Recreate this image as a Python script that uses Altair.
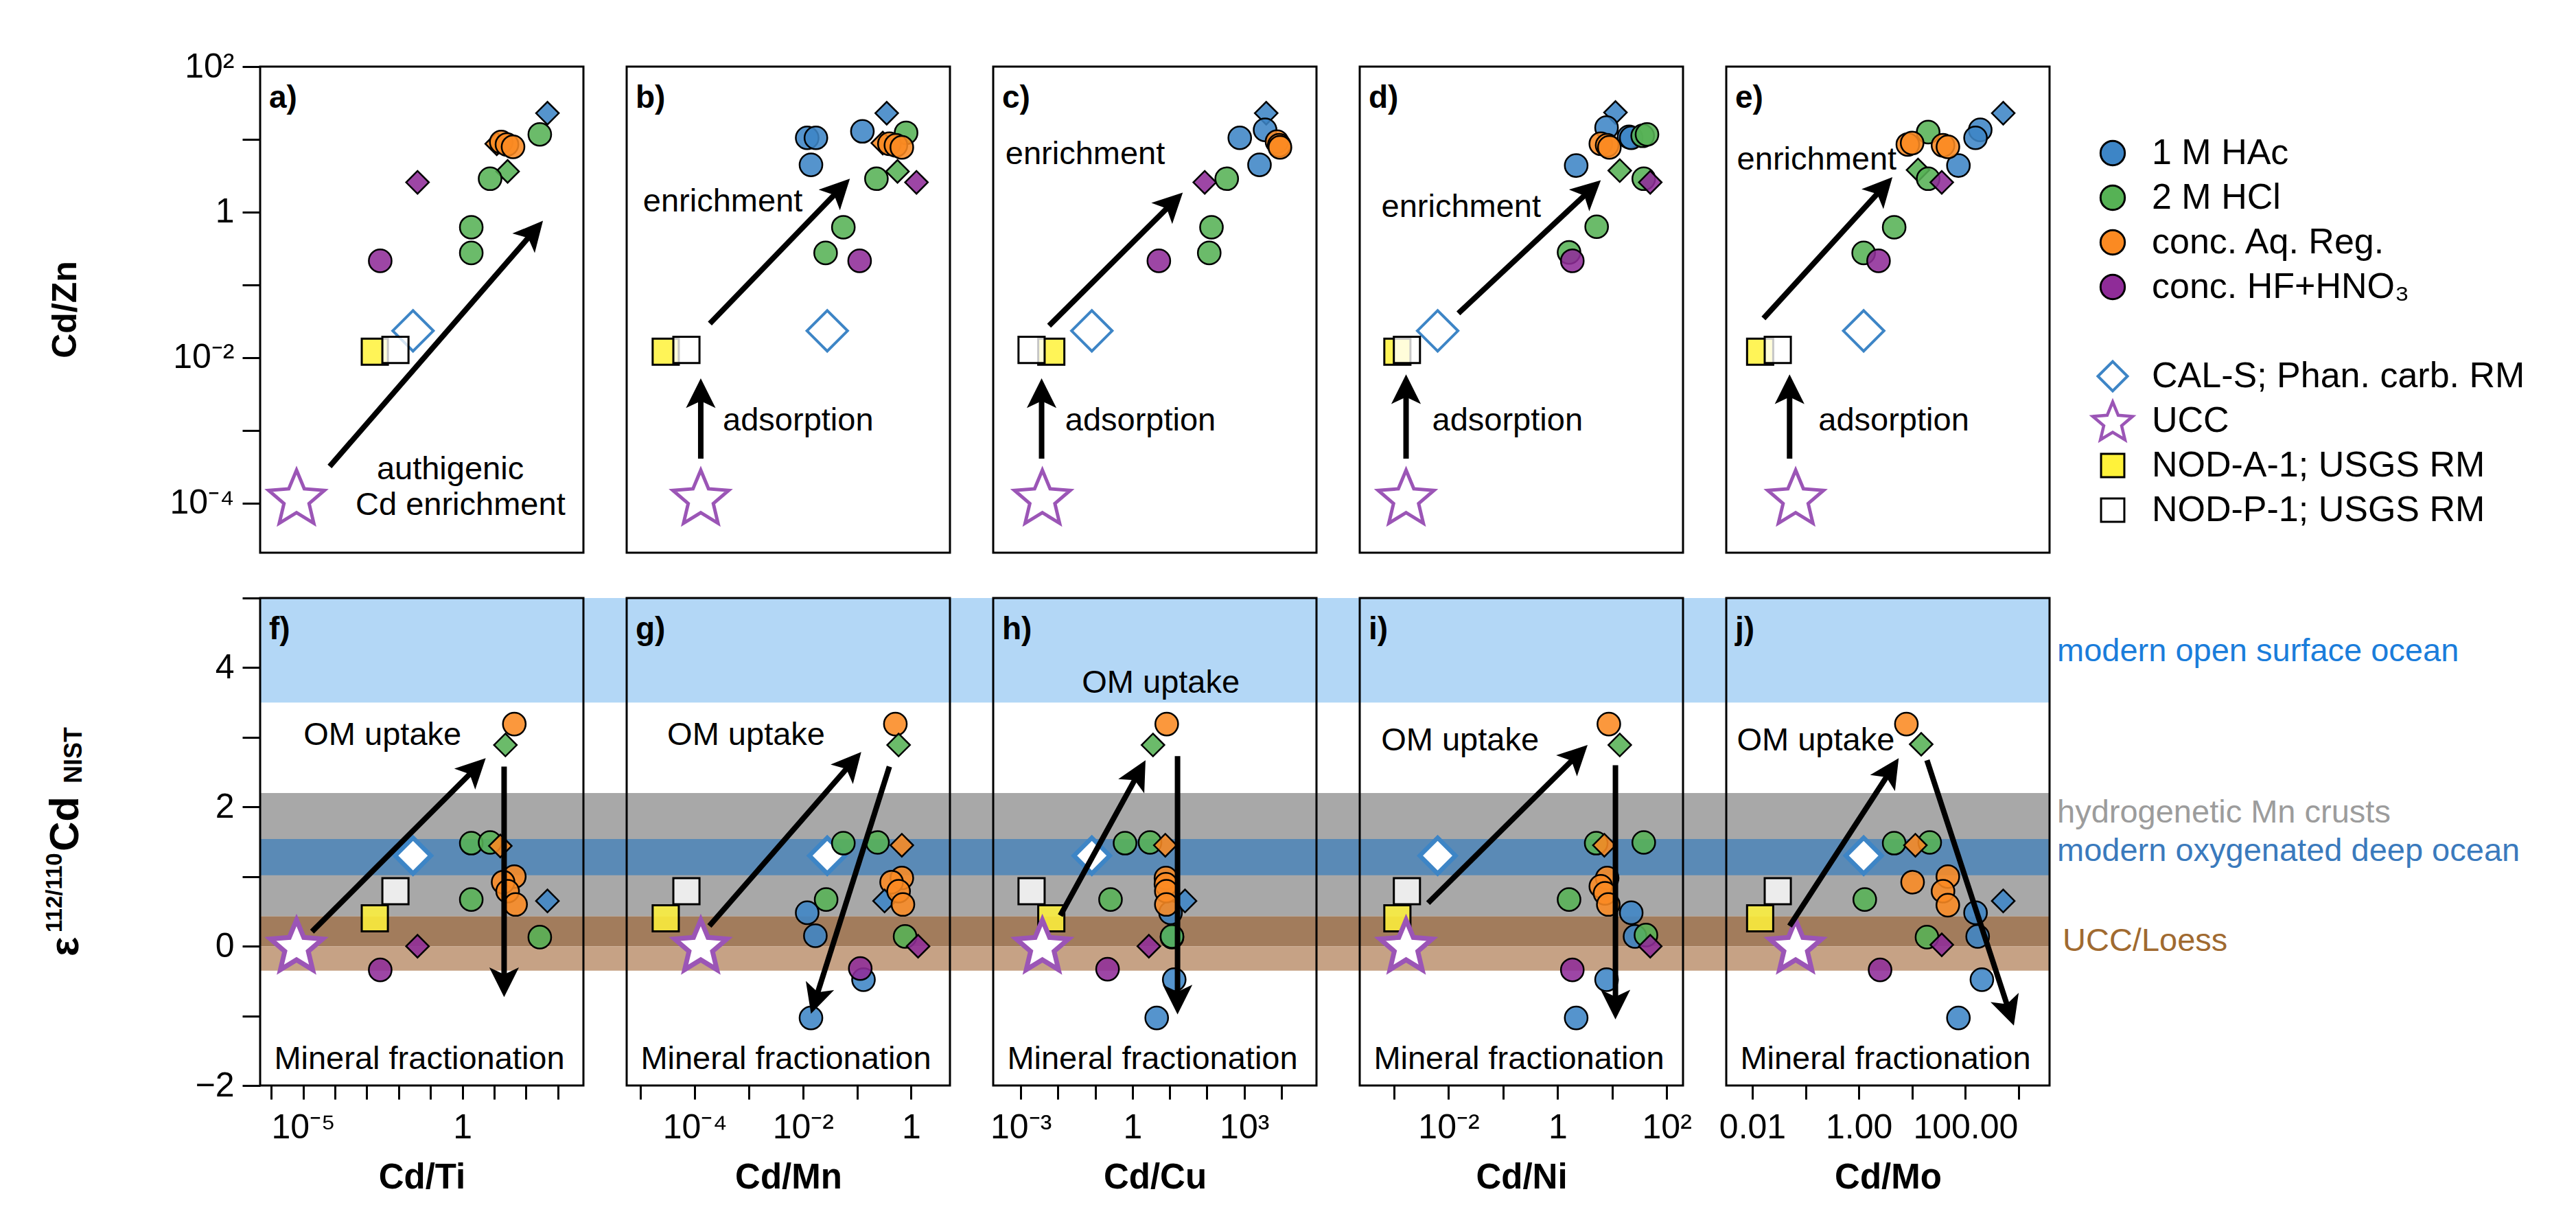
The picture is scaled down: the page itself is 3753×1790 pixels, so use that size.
import math
import altair as alt
import pandas as pd

FONT = "Liberation Sans"
W, H_TOP, H_BOT, GAP, ROW_GAP, LEG_W = 471, 708, 710, 63, 66, 640

# ---------------- categories / styles ----------------
SER_KEYS = ["HAc", "HCl", "AqR", "HF"]
SER_LABELS = ["1 M HAc", "2 M HCl", "conc. Aq. Reg.", "conc. HF+HNO\u2083"]
SER_COLORS = ["#3d85c6", "#56b255", "#fb8a22", "#8f2c98"]
CAL_BLUE = "#3d85c6"
UCC_PURPLE = "#9b55b6"
NODA_YELLOW = "#fff23a"

RATIOS = ["Cd/Ti", "Cd/Mn", "Cd/Cu", "Cd/Ni", "Cd/Mo"]
X_LOG_LIMITS = [(-6.35, 3.80), (-5.26, 0.72), (-3.74, 4.94), (-3.63, 2.30), (-2.49, 3.58)]
Y_TOP_LOG = (-4.68, 2.0)
Y_BOT = (-2.0, 5.0)
X_TICK_LABELS = [
    {-5: "10\u207b\u2075", 0: "1"},
    {-4: "10\u207b\u2074", -2: "10\u207b\u00b2", 0: "1"},
    {-3: "10\u207b\u00b3", 0: "1", 3: "10\u00b3"},
    {-2: "10\u207b\u00b2", 0: "1", 2: "10\u00b2"},
    {-2: "0.01", 0: "1.00", 2: "100.00"},
]
PANEL_TOP = ["a)", "b)", "c)", "d)", "e)"]
PANEL_BOT = ["f)", "g)", "h)", "i)", "j)"]

# ---------------- reference materials ----------------
REF_X = {
    "CAL-S": [0.0282, 0.0282, 0.081, 0.0063, 1.23],
    "NOD-A-1": [1.78e-3, 2.9e-5, 6.6e-3, 1.15e-3, 0.014],
    "NOD-P-1": [7.9e-3, 7.0e-5, 1.95e-3, 1.72e-3, 0.030],
    "UCC": [6.2e-6, 1.29e-4, 3.8e-3, 1.66e-3, 0.065],
}
REF_ZN = {"CAL-S": 0.0234, "NOD-A-1": 0.0121, "NOD-P-1": 0.0128, "UCC": 1.23e-4}
REF_EPS = {"CAL-S": 1.30, "NOD-A-1": 0.40, "NOD-P-1": 0.79, "UCC": 0.02}

# ---------------- samples: (series, shape, Cd/X, Cd/Zn) ----------------
TOP_A = [("HAc", "diamond", 468, 22.9), ("HCl", "circle", 269, 11.7),
         ("AqR", "diamond", 12.0, 8.7), ("AqR", "circle", 16.6, 9.2),
         ("AqR", "circle", 25.1, 8.5), ("AqR", "circle", 38.9, 7.9),
         ("HCl", "diamond", 26.3, 3.63), ("HCl", "circle", 7.4, 2.88),
         ("HF", "diamond", 0.039, 2.57), ("HCl", "circle", 1.9, 0.62),
         ("HCl", "circle", 1.9, 0.275), ("HF", "circle", 0.00263, 0.214)]
TOP_B = [("HAc", "circle", 0.0120, 10.5), ("HAc", "circle", 0.0174, 10.5),
         ("HAc", "circle", 0.0141, 4.47), ("HAc", "circle", 0.126, 12.9),
         ("HAc", "diamond", 0.355, 22.9), ("HCl", "circle", 0.81, 12.3),
         ("AqR", "diamond", 0.30, 8.9), ("AqR", "circle", 0.398, 8.7),
         ("AqR", "circle", 0.525, 8.3), ("AqR", "circle", 0.676, 7.76),
         ("HCl", "diamond", 0.562, 3.63), ("HCl", "circle", 0.229, 2.88),
         ("HF", "diamond", 1.26, 2.57), ("HCl", "circle", 0.056, 0.62),
         ("HCl", "circle", 0.0263, 0.275), ("HF", "circle", 0.112, 0.214)]
TOP_C = [("HAc", "diamond", 3890, 22.9), ("HAc", "circle", 3630, 13.5),
         ("HAc", "circle", 759, 10.5), ("HAc", "circle", 2570, 4.47),
         ("AqR", "circle", 7590, 9.3), ("AqR", "circle", 8710, 8.3),
         ("AqR", "circle", 9120, 7.76), ("HF", "diamond", 87, 2.57),
         ("HCl", "circle", 339, 2.88), ("HCl", "circle", 132, 0.62),
         ("HCl", "circle", 115, 0.275), ("HF", "circle", 5.1, 0.214)]
TOP_D = [("HAc", "diamond", 11.5, 23.4), ("HAc", "circle", 7.9, 14.5),
         ("HAc", "circle", 20.4, 10.8), ("HAc", "circle", 22.4, 10.5),
         ("HCl", "circle", 36.3, 11.2), ("HCl", "circle", 43.6, 11.7),
         ("AqR", "circle", 6.2, 8.7), ("AqR", "circle", 8.1, 8.3),
         ("AqR", "circle", 8.9, 7.76), ("HAc", "circle", 2.19, 4.37),
         ("HCl", "diamond", 13.8, 3.72), ("HCl", "circle", 38, 2.88),
         ("HF", "diamond", 50, 2.57), ("HCl", "circle", 5.2, 0.63),
         ("HCl", "circle", 1.62, 0.28), ("HF", "circle", 1.86, 0.214)]
TOP_E = [("HAc", "diamond", 513, 22.9), ("HAc", "circle", 190, 13.5),
         ("HAc", "circle", 155, 10.5), ("HAc", "circle", 74, 4.37),
         ("HCl", "circle", 20, 12.6), ("AqR", "circle", 8.3, 8.5),
         ("AqR", "circle", 10, 8.9), ("AqR", "circle", 38, 8.3),
         ("AqR", "circle", 47, 7.9), ("HCl", "diamond", 12.9, 3.8),
         ("HCl", "circle", 20, 2.88), ("HF", "diamond", 36, 2.57),
         ("HCl", "circle", 4.6, 0.62), ("HCl", "circle", 1.23, 0.275),
         ("HF", "circle", 2.34, 0.214)]

# ---------------- samples: (series, shape, Cd/X, eps112/110Cd) ----------------
BOT_F = [("AqR", "circle", 42.7, 3.19), ("HCl", "diamond", 22.4, 2.89),
         ("HCl", "circle", 1.9, 1.48), ("HCl", "circle", 7.4, 1.49),
         ("AqR", "diamond", 15.5, 1.44), ("AqR", "circle", 42.7, 1.0),
         ("AqR", "circle", 19, 0.92), ("AqR", "circle", 26.3, 0.79),
         ("AqR", "circle", 46.8, 0.60), ("HAc", "diamond", 468, 0.65),
         ("HCl", "circle", 1.9, 0.67), ("HCl", "circle", 269, 0.13),
         ("HF", "diamond", 0.039, 0.0), ("HF", "circle", 0.00263, -0.34)]
BOT_G = [("AqR", "circle", 0.513, 3.19), ("HCl", "diamond", 0.589, 2.89),
         ("HCl", "circle", 0.056, 1.48), ("HCl", "circle", 0.24, 1.49),
         ("AqR", "diamond", 0.676, 1.45), ("AqR", "circle", 0.676, 0.98),
         ("AqR", "circle", 0.437, 0.92), ("HAc", "diamond", 0.324, 0.65),
         ("AqR", "circle", 0.589, 0.79), ("AqR", "circle", 0.708, 0.60),
         ("HCl", "circle", 0.0269, 0.67), ("HAc", "circle", 0.012, 0.48),
         ("HAc", "circle", 0.017, 0.15), ("HCl", "circle", 0.776, 0.14),
         ("HF", "diamond", 1.35, 0.0), ("HAc", "circle", 0.132, -0.48),
         ("HF", "circle", 0.115, -0.32), ("HAc", "circle", 0.0141, -1.03)]
BOT_H = [("AqR", "circle", 8.3, 3.19), ("HCl", "diamond", 3.55, 2.89),
         ("HCl", "circle", 0.63, 1.48), ("HCl", "circle", 2.95, 1.49),
         ("AqR", "diamond", 7.6, 1.45), ("HAc", "diamond", 25.7, 0.65),
         ("HAc", "circle", 10.5, 0.48), ("HAc", "circle", 11.5, 0.13),
         ("AqR", "circle", 7.9, 0.98), ("AqR", "circle", 7.9, 0.89),
         ("AqR", "circle", 8.1, 0.79), ("AqR", "circle", 8.1, 0.60),
         ("HCl", "circle", 0.257, 0.67), ("HCl", "circle", 11.5, 0.14),
         ("HF", "diamond", 2.75, 0.0), ("HF", "circle", 0.214, -0.33),
         ("HAc", "circle", 13.2, -0.48), ("HAc", "circle", 4.47, -1.03)]
BOT_I = [("AqR", "circle", 8.7, 3.19), ("HCl", "diamond", 13.8, 2.89),
         ("HCl", "circle", 5.1, 1.48), ("HCl", "circle", 38, 1.49),
         ("AqR", "diamond", 7.2, 1.45), ("AqR", "circle", 8.1, 0.98),
         ("AqR", "circle", 6.2, 0.86), ("AqR", "circle", 7.4, 0.76),
         ("AqR", "circle", 8.5, 0.60), ("HAc", "circle", 22.4, 0.48),
         ("HAc", "circle", 26.3, 0.14), ("HCl", "circle", 41.7, 0.16),
         ("HF", "diamond", 50, 0.0), ("HCl", "circle", 1.62, 0.67),
         ("HF", "circle", 1.86, -0.34), ("HAc", "circle", 7.9, -0.48),
         ("HAc", "circle", 2.19, -1.03)]
BOT_J = [("AqR", "circle", 7.8, 3.19), ("HCl", "diamond", 14.8, 2.90),
         ("HCl", "circle", 4.6, 1.48), ("HCl", "circle", 21.4, 1.49),
         ("AqR", "diamond", 11.5, 1.45), ("AqR", "circle", 10.2, 0.92),
         ("AqR", "circle", 46.8, 1.0), ("AqR", "circle", 38, 0.79),
         ("AqR", "circle", 46.8, 0.59), ("HAc", "diamond", 513, 0.65),
         ("HCl", "circle", 1.29, 0.67), ("HAc", "circle", 155, 0.48),
         ("HAc", "circle", 170, 0.14), ("HCl", "circle", 19, 0.13),
         ("HF", "diamond", 36, 0.02), ("HF", "circle", 2.5, -0.34),
         ("HAc", "circle", 204, -0.48), ("HAc", "circle", 74, -1.03)]
TOP_SAMPLES = [TOP_A, TOP_B, TOP_C, TOP_D, TOP_E]
BOT_SAMPLES = [BOT_F, BOT_G, BOT_H, BOT_I, BOT_J]

# ---------------- annotations ----------------
TOP_ARROWS = [
    [(6.8e-5, 3.2e-4, 339, 0.76)],
    [(1.9e-4, 0.0295, 0.074, 2.88), (1.29e-4, 4.1e-4, 1.29e-4, 5.2e-3)],
    [(5.75e-3, 0.0275, 22.4, 1.86), (3.63e-3, 4.1e-4, 3.63e-3, 5.2e-3)],
    [(0.0151, 0.0407, 6.2, 2.75), (1.66e-3, 4.1e-4, 1.66e-3, 5.9e-3)],
    [(0.0162, 0.0347, 4.27, 3.02), (0.050, 4.1e-4, 0.050, 5.9e-3)],
]
BOT_ARROWS = [
    [(1.9e-5, 0.21, 5.4, 2.70), (20.4, 2.58, 20.4, -0.73)],
    [(1.86e-4, 0.29, 0.120, 2.79), (0.398, 2.58, 0.0141, -0.97)],
    [(0.0115, 0.44, 2.24, 2.67), (16.2, 2.73, 16.2, -0.98)],
    [(4.2e-3, 0.62, 3.55, 2.89), (11.5, 2.60, 11.5, -1.05)],
    [(0.050, 0.29, 5.6, 2.70), (19, 2.67, 813, -1.14)],
]
TOP_TEXT = [
    [("authigenic", 0.417, 2.9e-4, "center"), ("Cd enrichment", 0.87, 9.3e-5, "center")],
    [("enrichment", 3.3e-4, 1.38, "center"), ("adsorption", 3.3e-4, 1.35e-3, "left")],
    [("enrichment", 0.0537, 6.2, "center"), ("adsorption", 0.0155, 1.35e-3, "left")],
    [("enrichment", 0.017, 1.17, "center"), ("adsorption", 0.005, 1.35e-3, "left")],
    [("enrichment", 0.162, 5.25, "center"), ("adsorption", 0.174, 1.35e-3, "left")],
]
OM_TEXT = [(3.1e-3, 3.03), (8.9e-4, 3.03), (5.75, 3.78), (0.0162, 2.95), (0.155, 2.95)]
MINERAL_Y = -1.63

BAND_LO = [3.5, 0.43, 1.02, 0.0, -0.35]
BAND_HI = [5.0, 2.2, 1.54, 0.43, 0.0]
BAND_COLORS = ["#b3d7f6", "#a8a8a8", "#5a8ab6", "#a27c5c", "#c6a285"]
BAND_LABELS = ["modern open surface ocean", "hydrogenetic Mn crusts",
               "modern oxygenated deep ocean", "UCC/Loess"]
BAND_LABEL_Y = [4.23, 1.91, 1.36, 0.07]
BAND_LABEL_COLORS = ["#1a7ddb", "#9c9c9c", "#3a7abd", "#a06a30"]

LEGEND_REF_LABELS = ["CAL-S; Phan. carb. RM", "UCC", "NOD-A-1; USGS RM", "NOD-P-1; USGS RM"]


def star_path(inner=0.45):
    pts = []
    for k in range(10):
        a = math.radians(-90 + 36 * k)
        r = 1.0 if k % 2 == 0 else inner
        pts.append((r * math.cos(a), r * math.sin(a) + 0.095))
    return "M" + "L".join(f"{x:.4f},{y:.4f}" for x, y in pts) + "Z"


STAR = star_path()
HEAD = "M0,-1L0.8,0.6L0,0.22L-0.8,0.6Z"
HEAD_SIZE = 54 ** 2
ONE = pd.DataFrame({"k": [0]})


def to_px(x, y, i, top):
    lo, hi = X_LOG_LIMITS[i]
    px = (math.log10(x) - lo) / (hi - lo) * W
    if top:
        py = (Y_TOP_LOG[1] - math.log10(y)) / (Y_TOP_LOG[1] - Y_TOP_LOG[0]) * H_TOP
    else:
        py = (Y_BOT[1] - y) / (Y_BOT[1] - Y_BOT[0]) * H_BOT
    return px, py


def from_px(px, py, i, top):
    lo, hi = X_LOG_LIMITS[i]
    x = 10 ** (lo + px / W * (hi - lo))
    if top:
        y = 10 ** (Y_TOP_LOG[1] - py / H_TOP * (Y_TOP_LOG[1] - Y_TOP_LOG[0]))
    else:
        y = Y_BOT[1] - py / H_BOT * (Y_BOT[1] - Y_BOT[0])
    return x, y


def arrow_tables(arrows, i, top):
    lines, heads = [], []
    r = math.sqrt(HEAD_SIZE) / 2
    for (x0, y0, x1, y1) in arrows:
        p0 = to_px(x0, y0, i, top)
        p1 = to_px(x1, y1, i, top)
        dx, dy = p1[0] - p0[0], p1[1] - p0[1]
        L = math.hypot(dx, dy)
        ux, uy = dx / L, dy / L
        le = from_px(p1[0] - ux * r * 0.85, p1[1] - uy * r * 0.85, i, top)
        hc = from_px(p1[0] - ux * r, p1[1] - uy * r, i, top)
        ang = math.degrees(math.atan2(ux, -uy)) % 360
        lines.append({"x": x0, "y": y0, "x2": le[0], "y2": le[1]})
        heads.append({"x": hc[0], "y": hc[1], "ang": ang})
    return pd.DataFrame(lines), pd.DataFrame(heads)


def axis_common():
    return dict(domain=False, grid=False, ticks=True, tickWidth=3, tickColor="black",
                labelFont=FONT, labelFontSize=50, labelColor="black",
                labelOverlap=False, labelFlush=False, title="")


def x_axis_bottom(i):
    lo, hi = X_LOG_LIMITS[i]
    vals = [10.0 ** k for k in range(math.ceil(lo), math.floor(hi) + 1)]
    e = "round(log(datum.value)/LN10)"
    expr = " : ".join(f"{e} == {k} ? '{t}'" for k, t in X_TICK_LABELS[i].items()) + " : ''"
    c = axis_common()
    c.update(title=RATIOS[i], titleFont=FONT, titleFontSize=51, titleFontWeight="bold",
             titleColor="black", titleY=134, titleBaseline="middle")
    return alt.Axis(values=vals, labelExpr=expr, tickSize=20, labelPadding=16, **c)


def y_axis_top():
    e = "round(log(datum.value)/LN10)"
    labels = {2: "10\u00b2", 0: "1", -2: "10\u207b\u00b2", -4: "10\u207b\u2074"}
    expr = " : ".join(f"{e} == {k} ? '{t}'" for k, t in labels.items()) + " : ''"
    return alt.Axis(values=[10.0 ** k for k in range(-4, 3)], labelExpr=expr,
                    tickSize=26, labelPadding=12, **axis_common())


def y_axis_bot():
    expr = ("datum.value == -2 ? '\u22122' : datum.value == 0 ? '0' : "
            "datum.value == 2 ? '2' : datum.value == 4 ? '4' : ''")
    return alt.Axis(values=list(range(-2, 6)), labelExpr=expr,
                    tickSize=26, labelPadding=12, **axis_common())


def panel(i, top):
    lo, hi = X_LOG_LIMITS[i]
    H = H_TOP if top else H_BOT
    xscale = alt.Scale(type="log", domain=[10 ** lo, 10 ** hi], nice=False)
    if top:
        yscale = alt.Scale(type="log", domain=[10 ** Y_TOP_LOG[0], 10 ** Y_TOP_LOG[1]], nice=False)
        yaxis = y_axis_top() if i == 0 else None
        xaxis = None
    else:
        yscale = alt.Scale(domain=list(Y_BOT), nice=False, zero=False)
        yaxis = y_axis_bot() if i == 0 else None
        xaxis = x_axis_bottom(i)

    def X():
        return alt.X("x:Q", scale=xscale, axis=xaxis)

    def Y():
        return alt.Y("y:Q", scale=yscale, axis=yaxis)

    layers = []
    if not top:
        bdf = pd.DataFrame({"y": BAND_LO, "y2": BAND_HI, "c": BAND_COLORS})
        x2 = W + GAP if i < 4 else W
        layers.append(alt.Chart(bdf).mark_rect().encode(
            x=alt.value(0), x2=alt.value(x2), y=Y(), y2=alt.Y2("y2:Q"),
            color=alt.Color("c:N", scale=None)))

    yref = REF_ZN if top else REF_EPS
    styles = {
        "CAL-S": dict(shape="diamond", filled=True, fill="white", stroke=CAL_BLUE,
                      strokeWidth=4 if top else 6.5, size=3500 if top else 2700, opacity=1),
        "NOD-A-1": dict(shape="square", filled=True, fill=NODA_YELLOW, fillOpacity=0.85,
                        stroke="black", strokeWidth=3, size=1450, opacity=1),
        "NOD-P-1": dict(shape="square", filled=True, fill="white", fillOpacity=0.78,
                        stroke="black", strokeWidth=3, size=1450, opacity=1),
        "UCC": dict(shape=STAR, filled=True, fill="white", stroke=UCC_PURPLE,
                    strokeWidth=5 if top else 7, size=7300 if top else 6400, opacity=1),
    }
    for name in ["CAL-S", "NOD-A-1", "NOD-P-1", "UCC"]:
        df = pd.DataFrame({"x": [REF_X[name][i]], "y": [yref[name]]})
        layers.append(alt.Chart(df).mark_point(**styles[name]).encode(x=X(), y=Y()))

    samples = TOP_SAMPLES[i] if top else BOT_SAMPLES[i]
    sdf = pd.DataFrame(samples, columns=["series", "shape", "x", "y"])
    layers.append(alt.Chart(sdf).mark_point(
        filled=True, stroke="black", strokeWidth=2.5, size=1100, opacity=1, fillOpacity=0.88
    ).encode(
        x=X(), y=Y(),
        fill=alt.Fill("series:N", scale=alt.Scale(domain=SER_KEYS, range=SER_COLORS), legend=None),
        shape=alt.Shape("shape:N", scale=alt.Scale(domain=["circle", "diamond"],
                                                    range=["circle", "diamond"]), legend=None),
    ))

    arrows = TOP_ARROWS[i] if top else BOT_ARROWS[i]
    ldf, hdf = arrow_tables(arrows, i, top)
    layers.append(alt.Chart(ldf).mark_rule(color="black", strokeWidth=8, strokeCap="butt").encode(
        x=X(), y=Y(), x2=alt.X2("x2:Q"), y2=alt.Y2("y2:Q")))
    layers.append(alt.Chart(hdf).mark_point(shape=HEAD, filled=True, color="black", size=HEAD_SIZE,
                                            opacity=1, strokeWidth=0).encode(
        x=X(), y=Y(), angle=alt.Angle("ang:Q", scale=None)))

    if top:
        tdf = pd.DataFrame(TOP_TEXT[i], columns=["t", "x", "y", "al"])
        for al in ["center", "left"]:
            sub = tdf[tdf["al"] == al]
            if len(sub):
                layers.append(alt.Chart(sub).mark_text(align=al, baseline="middle", fontSize=47,
                                                       font=FONT, color="black").encode(
                    x=X(), y=Y(), text="t:N"))
    else:
        odf = pd.DataFrame({"x": [OM_TEXT[i][0]], "y": [OM_TEXT[i][1]], "t": ["OM uptake"]})
        layers.append(alt.Chart(odf).mark_text(align="center", baseline="middle", fontSize=47,
                                               font=FONT, color="black").encode(
            x=X(), y=Y(), text="t:N"))
        mdf = pd.DataFrame({"y": [MINERAL_Y], "t": ["Mineral fractionation"]})
        layers.append(alt.Chart(mdf).mark_text(align="center", baseline="middle", fontSize=47,
                                               font=FONT, color="black").encode(
            x=alt.value(232), y=Y(), text="t:N"))

    label = PANEL_TOP[i] if top else PANEL_BOT[i]
    layers.append(alt.Chart(ONE).mark_text(align="left", baseline="middle", fontSize=46,
                                           fontWeight="bold", font=FONT, color="black").encode(
        x=alt.value(13), y=alt.value(46), text=alt.value(label)))

    if i == 0 and top:
        layers.append(alt.Chart(ONE).mark_text(angle=270, align="center", baseline="middle",
                                               fontSize=50, fontWeight="bold", font=FONT,
                                               color="black").encode(
            x=alt.value(-283), y=alt.value(354), text=alt.value("Cd/Zn")))
    if i == 0 and not top:
        parts = [("\u03b5", -283, 522, 60), ("112/110", -299, 487, 33),
                 ("Cd", -283, 369, 60), ("NIST", -271, 270, 36)]
        for t, xx, yy, fs in parts:
            layers.append(alt.Chart(ONE).mark_text(angle=270, align="left", baseline="middle",
                                                   fontSize=fs, fontWeight="bold", font=FONT,
                                                   color="black").encode(
                x=alt.value(xx), y=alt.value(yy), text=alt.value(t)))

    layers.append(alt.Chart(ONE).mark_rect(fillOpacity=0, stroke="black", strokeWidth=3).encode(
        x=alt.value(0), x2=alt.value(W), y=alt.value(0), y2=alt.value(H)))

    return alt.layer(*layers).properties(width=W, height=H)


def legend_top():
    d0 = -126 / 65
    d1 = d0 + H_TOP / 65
    yl = alt.Y("row:Q", scale=alt.Scale(domain=[d0, d1], reverse=True, nice=False, zero=False),
               axis=None)
    cdf = pd.DataFrame({"series": SER_KEYS, "row": [0, 1, 2, 3], "label": SER_LABELS})
    layers = [alt.Chart(cdf).mark_point(filled=True, stroke="black", strokeWidth=3, size=1250,
                                        opacity=1, shape="circle").encode(
        x=alt.value(29), y=yl,
        fill=alt.Fill("series:N", scale=alt.Scale(domain=SER_KEYS, range=SER_COLORS), legend=None))]
    ref_styles = [
        dict(shape="diamond", filled=True, fill="white", stroke=CAL_BLUE, strokeWidth=4, size=1850),
        dict(shape=STAR, filled=True, fill="white", stroke=UCC_PURPLE, strokeWidth=4.5, size=3700),
        dict(shape="square", filled=True, fill=NODA_YELLOW, stroke="black", strokeWidth=3, size=1150),
        dict(shape="square", filled=True, fill="white", stroke="black", strokeWidth=3, size=1150),
    ]
    for k, st in enumerate(ref_styles):
        df = pd.DataFrame({"row": [5 + k]})
        layers.append(alt.Chart(df).mark_point(opacity=1, **st).encode(x=alt.value(29), y=yl))
    tdf = pd.DataFrame({"row": [0, 1, 2, 3, 5, 6, 7, 8], "label": SER_LABELS + LEGEND_REF_LABELS})
    layers.append(alt.Chart(tdf).mark_text(align="left", baseline="middle", fontSize=52,
                                           font=FONT, color="black").encode(
        x=alt.value(86), y=yl, text="label:N"))
    return alt.layer(*layers).properties(width=LEG_W, height=H_TOP)


def band_labels():
    ys = alt.Y("y:Q", scale=alt.Scale(domain=list(Y_BOT), nice=False, zero=False), axis=None)
    df = pd.DataFrame({"y": BAND_LABEL_Y, "t": BAND_LABELS, "c": BAND_LABEL_COLORS})
    a = alt.Chart(df.iloc[:3]).mark_text(align="left", baseline="middle", fontSize=47,
                                         font=FONT).encode(
        x=alt.value(-52), y=ys, text="t:N", color=alt.Color("c:N", scale=None))
    b = alt.Chart(df.iloc[3:]).mark_text(align="left", baseline="middle", fontSize=47,
                                         font=FONT).encode(
        x=alt.value(-44), y=ys, text="t:N", color=alt.Color("c:N", scale=None))
    return alt.layer(a, b).properties(width=LEG_W, height=H_BOT)


charts = [panel(i, True) for i in range(5)] + [legend_top()] + \
         [panel(i, False) for i in range(5)] + [band_labels()]

chart = alt.concat(*charts, columns=6, spacing={"row": ROW_GAP, "column": GAP},
                   bounds="flush").properties(
    padding={"left": 55, "top": 63, "right": 10, "bottom": 10}
).configure(font=FONT).configure_view(stroke="transparent")

chart.save("out.html", embed_options={"renderer": "svg", "actions": False})
